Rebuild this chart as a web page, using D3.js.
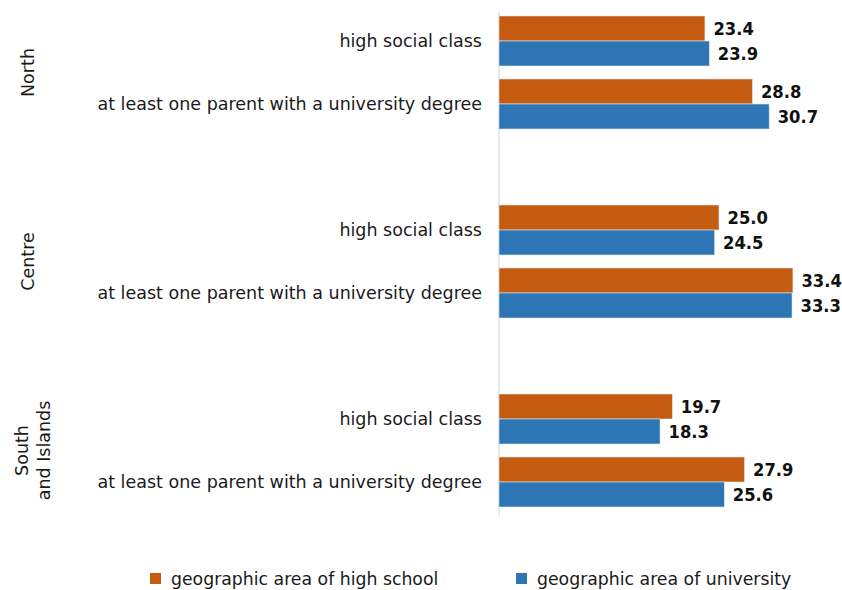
<!DOCTYPE html>
<html><head><meta charset="utf-8">
<script src="https://cdn.jsdelivr.net/npm/d3@7"></script>
<style>
html,body{margin:0;padding:0;background:#fff;}
svg{display:block;font-family:"DejaVu Sans",sans-serif;}
</style></head>
<body><svg id="chart" width="842" height="590"></svg>
<script>
const groups = ["North", "Centre", "South and Islands"];
const groupLines = [["North"], ["Centre"], ["South", "and Islands"]];
const categories = ["high social class", "at least one parent with a university degree"];
const seriesNames = ["geographic area of high school", "geographic area of university"];
const seriesColors = ["#C55A11", "#2E75B6"];
// values[group][category]
const highSchool = [[23.4, 28.8], [25.0, 33.4], [19.7, 27.9]];
const university = [[23.9, 30.7], [24.5, 33.3], [18.3, 25.6]];

const svg = d3.select("#chart");
const axisX = 499;
const labelFont = 17.5;

// rows: two categories per group plus a blank spacer between groups
const rows = [];
groups.forEach((g, gi) => {
  categories.forEach((c, ci) => rows.push({key: gi + "-" + ci, g: gi, c: ci}));
  if (gi < groups.length - 1) rows.push({key: "gap" + gi, gap: true});
});
const y = d3.scaleBand().domain(rows.map(r => r.key)).range([9.5, 513.5]);
const ys = d3.scaleBand().domain([0, 1]).range([0, y.bandwidth()]).paddingOuter(0.26).paddingInner(0);
const x = d3.scaleLinear().domain([0, 10]).range([axisX, axisX + 88]);

// axis line
svg.append("line").attr("x1", axisX).attr("x2", axisX).attr("y1", 12).attr("y2", 516)
  .attr("stroke", "#d9d9d9").attr("stroke-width", 1.2);

const dataRows = rows.filter(r => !r.gap);
const bars = [];
dataRows.forEach(r => {
  [highSchool, university].forEach((s, si) => {
    bars.push({row: r, s: si, v: s[r.g][r.c]});
  });
});

svg.append("g").selectAll("rect").data(bars).join("rect")
  .attr("x", x(0))
  .attr("y", d => y(d.row.key) + ys(d.s))
  .attr("width", d => x(d.v) - x(0))
  .attr("height", ys.bandwidth())
  .attr("fill", d => seriesColors[d.s])
  .attr("stroke", "#dfe6ee").attr("stroke-width", 0.6);

svg.append("g").selectAll("text").data(bars).join("text")
  .attr("x", d => x(d.v) + 8.5)
  .attr("y", d => y(d.row.key) + ys(d.s) + ys.bandwidth() / 2)
  .attr("dy", "0.38em")
  .attr("font-family", "'DejaVu Sans Condensed','DejaVu Sans',sans-serif")
  .attr("font-size", 18.2).attr("font-weight", "bold").attr("fill", "#111")
  .text(d => d.v.toFixed(1));

// category labels
svg.append("g").selectAll("text").data(dataRows).join("text")
  .attr("x", 482)
  .attr("y", d => y(d.key) + y.bandwidth() / 2)
  .attr("dy", "0.36em")
  .attr("text-anchor", "end")
  .attr("font-size", labelFont).attr("fill", "#1a1a1a")
  .text(d => categories[d.c]);

// group labels
groups.forEach((g, gi) => {
  const yc = (y(gi + "-0") + y(gi + "-1") + y.bandwidth()) / 2;
  const lines = groupLines[gi];
  const base = lines.length === 1 ? 34 : 28;
  const t = svg.append("text")
    .attr("transform", `translate(${base},${yc}) rotate(-90)`)
    .attr("text-anchor", "middle")
    .attr("font-size", labelFont).attr("fill", "#1a1a1a");
  lines.forEach((l, li) => {
    t.append("tspan").attr("x", 0).attr("y", li * 22).text(l);
  });
});

// legend
const legX = [150, 516];
seriesNames.forEach((n, i) => {
  svg.append("rect").attr("x", legX[i]).attr("y", 573).attr("width", 11).attr("height", 11)
    .attr("fill", seriesColors[i]);
  svg.append("text").attr("x", legX[i] + 21).attr("y", 579).attr("dy", "0.36em")
    .attr("font-size", 17.3).attr("fill", "#1a1a1a").text(n);
});
</script></body></html>
